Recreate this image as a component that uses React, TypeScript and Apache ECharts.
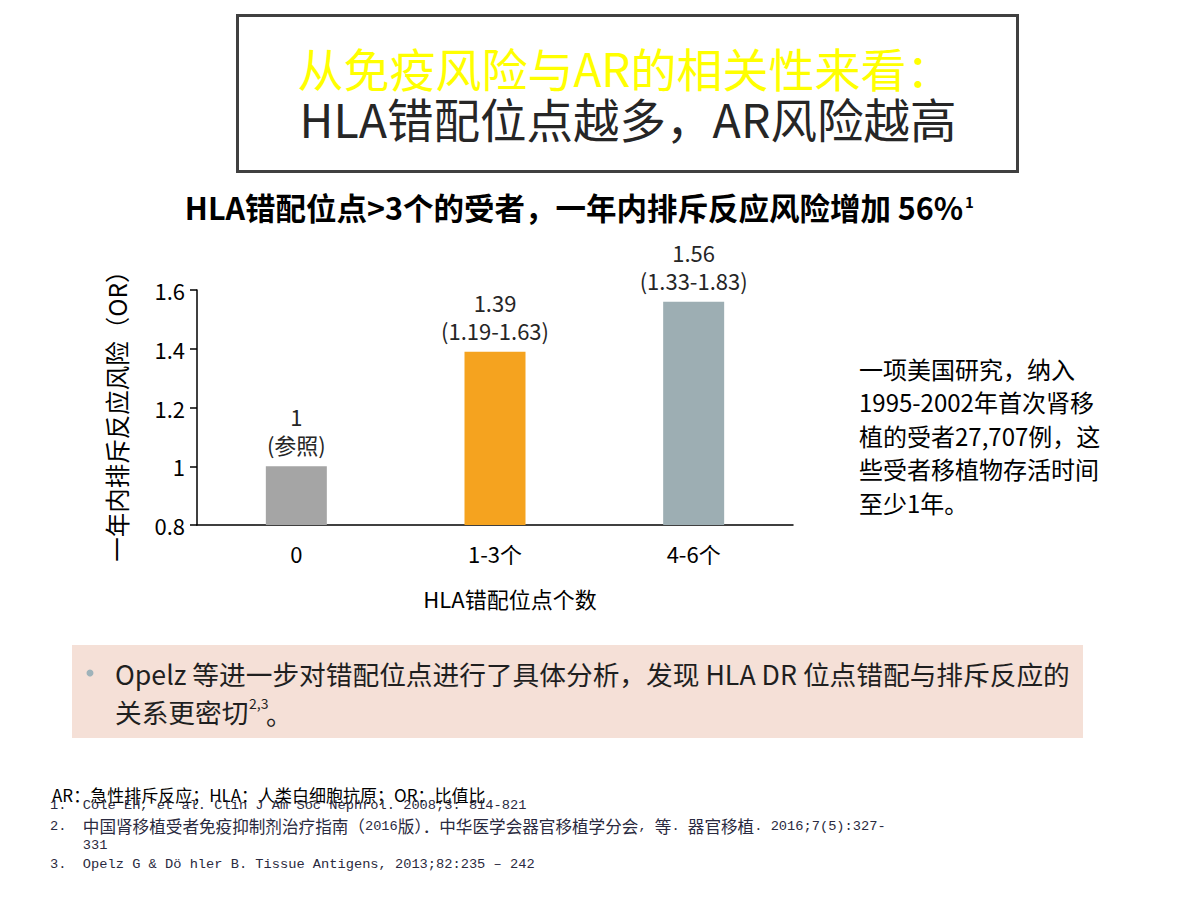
import React, { useEffect, useRef } from "react";
import * as echarts from "echarts";

const categories = ["0", "1-3个", "4-6个"];
const orValues = [1, 1.39, 1.56];
const ciLabels = ["参照", "1.19-1.63", "1.33-1.83"];
const barColors = ["#A5A5A5", "#F5A31F", "#9DAEB3"];
const yTicks = { min: 0.8, max: 1.6, interval: 0.2 };

const titleLine1 = "从免疫风险与AR的相关性来看：";
const titleLine2 = "HLA错配位点越多，AR风险越高";
const subtitle = "HLA错配位点>3个的受者，一年内排斥反应风险增加 56%";
const yAxisName = "一年内排斥反应风险（OR）";
const xAxisName = "HLA错配位点个数";
const sideNote = [
  "一项美国研究，纳入",
  "1995-2002年首次肾移",
  "植的受者27,707例，这",
  "些受者移植物存活时间",
  "至少1年。",
];
const bulletLines = [
  "Opelz 等进一步对错配位点进行了具体分析，发现 HLA DR 位点错配与排斥反应的",
  "关系更密切",
];
const abbrev = "AR：急性排斥反应；HLA：人类白细胞抗原；OR：比值比";
const refs = [
  "1.  Cole EH, et al. Clin J Am Soc Nephrol. 2008;3: 814-821",
  "2.  中国肾移植受者免疫抑制剂治疗指南（2016版）．中华医学会器官移植学分会, 等. 器官移植. 2016;7(5):327-",
  "    331",
  "3.  Opelz G & Dö hler B. Tissue Antigens, 2013;82:235 – 242",
];

const SANS = "'Noto Sans CJK SC', 'Noto Sans', sans-serif";
const MONO = "'Liberation Mono', 'DejaVu Sans Mono', monospace";

function toRich(text: string): string {
  const parts = text.match(/[\u3000-\u9fff\uff00-\uffef]+|[^\u3000-\u9fff\uff00-\uffef]+/g) || [];
  return parts
    .map((p) => (/[\u3000-\u9fff\uff00-\uffef]/.test(p) ? `{c|${p}}` : `{l|${p}}`))
    .join("");
}

export default function App() {
  const ref = useRef<HTMLDivElement>(null);
  useEffect(() => {
    if (!ref.current) return;
    const chart = echarts.init(ref.current, null, { renderer: "svg" });
    const graphic: any[] = [
      {
        type: "rect",
        shape: { x: 237.5, y: 15.5, width: 780, height: 156 },
        style: { fill: "#fff", stroke: "#404040", lineWidth: 3 },
      },
      {
        type: "text",
        x: 625,
        y: 67,
        style: {
          text: titleLine1,
          fill: "#FFFF00",
          font: `46px ${SANS}`,
          textAlign: "center",
          textVerticalAlign: "middle",
        },
      },
      {
        type: "text",
        x: 628,
        y: 117,
        style: {
          text: titleLine2,
          fill: "#262626",
          font: `46.5px ${SANS}`,
          textAlign: "center",
          textVerticalAlign: "middle",
        },
      },
      {
        type: "text",
        x: 574,
        y: 207,
        style: {
          text: subtitle,
          fill: "#000",
          font: `bold 30.5px ${SANS}`,
          textAlign: "center",
          textVerticalAlign: "middle",
        },
      },
      {
        type: "text",
        x: 965,
        y: 201,
        style: {
          text: "1",
          fill: "#000",
          font: `bold 15px ${SANS}`,
          textAlign: "left",
          textVerticalAlign: "middle",
        },
      },
      {
        type: "text",
        x: 116,
        y: 410,
        rotation: Math.PI / 2,
        style: {
          text: yAxisName,
          fill: "#000",
          font: `24.5px ${SANS}`,
          textAlign: "center",
          textVerticalAlign: "middle",
        },
      },
      {
        type: "text",
        x: 510,
        y: 598,
        style: {
          text: xAxisName,
          fill: "#000",
          font: `22px ${SANS}`,
          textAlign: "center",
          textVerticalAlign: "middle",
        },
      },
      ...sideNote.map((t, i) => ({
        type: "text",
        x: 859,
        y: 368 + i * 33.5,
        style: {
          text: t,
          fill: "#000",
          font: `24px ${SANS}`,
          textAlign: "left",
          textVerticalAlign: "middle",
        },
      })),
      {
        type: "rect",
        shape: { x: 72, y: 645, width: 1011, height: 93 },
        style: { fill: "#F5E0D7" },
      },
      {
        type: "circle",
        shape: { cx: 90, cy: 673, r: 3.5 },
        style: { fill: "#9FB3BA" },
      },
      ...bulletLines.map((t, i) => ({
        type: "text",
        x: 115,
        y: 673 + i * 38,
        style: {
          text: t,
          fill: "#1f1f1f",
          font: `26.7px ${SANS}`,
          textAlign: "left",
          textVerticalAlign: "middle",
        },
      })),
      {
        type: "text",
        x: 249,
        y: 703,
        style: {
          text: "2,3",
          fill: "#1f1f1f",
          font: `14px ${SANS}`,
          textAlign: "left",
          textVerticalAlign: "middle",
        },
      },
      {
        type: "text",
        x: 266,
        y: 713,
        style: {
          text: "。",
          fill: "#1f1f1f",
          font: `26px ${SANS}`,
          textAlign: "left",
          textVerticalAlign: "middle",
        },
      },
      {
        type: "text",
        x: 52,
        y: 794,
        style: {
          text: abbrev,
          fill: "#000",
          font: `17px ${SANS}`,
          textAlign: "left",
          textVerticalAlign: "middle",
        },
      },
      ...refs.map((t, i) => ({
        type: "text",
        x: 50,
        y: [805, 826, 845, 864][i],
        style: {
          text: toRich(t),
          fill: "#2a2a40",
          textAlign: "left",
          textVerticalAlign: "middle",
          rich: {
            l: { fontFamily: MONO, fontSize: 13.7, fill: "#2a2a40" },
            c: { fontFamily: SANS, fontSize: 16.6, fill: "#2a2a40" },
          },
        },
      })),
    ];

    chart.setOption({
      animation: false,
      backgroundColor: "#fff",
      grid: { left: 197, top: 290, width: 596, height: 235, containLabel: false },
      xAxis: {
        type: "category",
        data: categories,
        axisLine: { show: true, lineStyle: { color: "#000", width: 1.5 } },
        axisTick: { show: false },
        axisLabel: {
          color: "#000",
          fontSize: 22,
          fontFamily: SANS,
          margin: 17,
        },
      },
      yAxis: {
        type: "value",
        min: yTicks.min,
        max: yTicks.max,
        interval: yTicks.interval,
        axisLine: { show: true, lineStyle: { color: "#000", width: 1.5 } },
        axisTick: { show: true, length: 7, lineStyle: { color: "#000", width: 1.5 } },
        splitLine: { show: false },
        axisLabel: {
          color: "#000",
          fontSize: 22,
          fontFamily: SANS,
          margin: 12,
          formatter: (v: number) => String(Math.round(v * 10) / 10),
        },
      },
      series: [
        {
          type: "bar",
          barWidth: 61,
          data: orValues.map((v, i) => ({
            value: v,
            itemStyle: { color: barColors[i] },
          })),
          label: {
            show: true,
            position: "top",
            distance: 8,
            color: "#262626",
            fontSize: 22,
            fontFamily: SANS,
            lineHeight: 28,
            align: "center",
            formatter: (p: any) => `${p.value}\n(${ciLabels[p.dataIndex]})`,
          },
        },
      ],
      graphic,
    });
    return () => chart.dispose();
  }, []);
  return (
    <div
      ref={ref}
      style={{ position: "fixed", left: 0, top: 0, width: 1200, height: 900 }}
    />
  );
}
